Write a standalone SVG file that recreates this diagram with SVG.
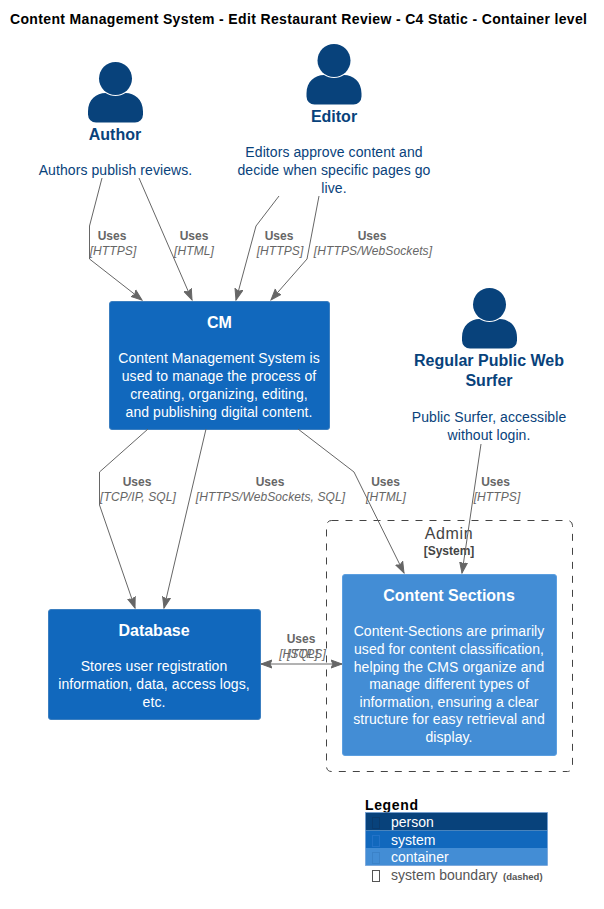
<svg xmlns="http://www.w3.org/2000/svg" width="604" height="909" viewBox="0 0 604 909">
<style>
text{font-family:"Liberation Sans",Arial,sans-serif}
.c{text-anchor:middle}
.title{font-size:14px;font-weight:bold;fill:#000}
.pn{font-size:16px;font-weight:bold;fill:#08427B}
.pd{font-size:14px;fill:#08427B;letter-spacing:.08px}
.nn{font-size:16px;font-weight:bold;fill:#fff}
.nd{font-size:14px;fill:#fff;letter-spacing:.08px}
.box{stroke:#3C7FC0;stroke-width:1}
.p{fill:#08427B}
.u{font-size:12px;font-weight:bold;fill:#666}
.h{font-size:12px;font-style:italic;fill:#666;letter-spacing:.1px}
.l{fill:none;stroke:#666;stroke-width:1}
.ah{fill:#666;stroke:#666}
.lg{font-size:14px}
</style>
<defs>
<marker id="a" viewBox="0 0 12 10" refX="11" refY="5" markerWidth="12" markerHeight="10" markerUnits="userSpaceOnUse" orient="auto-start-reverse"><path class="ah" d="M0,1 L11,5 L0,9 L2,5 Z"/></marker>
<g id="person"><circle cx="0" cy="-30" r="16.5" class="p"/><path class="p" d="M-27.500,3 C-27.500,-9 -19,-15.500 -10,-15.500 C-4,-11.500 4,-11.500 10,-15.500 C19,-15.500 27.500,-9 27.500,3 L27.500,6 A8,8 0 0 1 19.500,14 L-19.500,14 A8,8 0 0 1 -27.500,6 Z"/></g>
</defs>
<rect width="604" height="909" fill="#fff"/>
<text class="title" x="10" y="24" textLength="577">Content Management System - Edit Restaurant Review - C4 Static - Container level</text>

<g id="boundary-admin">
<rect x="326.500" y="520.500" width="246" height="251" rx="5" fill="none" stroke="#444" stroke-width="1" stroke-dasharray="7,7"/>
<text class="c" x="449" y="539" font-size="16" fill="#444" letter-spacing=".6">Admin</text>
<text class="c" x="449" y="555" font-size="12" font-weight="bold" fill="#444">[System]</text>
</g>

<g id="author">
<use href="#person" x="115.500" y="108.500"/>
<text class="pn c" x="115" y="140">Author</text>
<text class="pd c" x="115.500" y="175">Authors publish reviews.</text>
</g>
<g id="editor">
<use href="#person" x="334" y="90.500"/>
<text class="pn c" x="334" y="122">Editor</text>
<text class="pd c" x="334" y="157">Editors approve content and</text>
<text class="pd c" x="334" y="175">decide when specific pages go</text>
<text class="pd c" x="334" y="193">live.</text>
</g>
<g id="surfer">
<use href="#person" x="489.500" y="334.500"/>
<text class="pn c" x="489" y="366">Regular Public Web</text>
<text class="pn c" x="489" y="386">Surfer</text>
<text class="pd c" x="489" y="422">Public Surfer, accessible</text>
<text class="pd c" x="489" y="440">without login.</text>
</g>
<g id="cm">
<rect class="box" x="109.500" y="301.500" width="220" height="128" rx="2.500" fill="#1168BD"/>
<text class="nn c" x="219.500" y="328">CM</text>
<text class="nd c" x="219" y="363">Content Management System is</text>
<text class="nd c" x="219" y="381">used to manage the process of</text>
<text class="nd c" x="219" y="399">creating, organizing, editing,</text>
<text class="nd c" x="219" y="417">and publishing digital content.</text>
</g>
<g id="database">
<rect class="box" x="48.500" y="609.500" width="212" height="110" rx="2.500" fill="#1168BD"/>
<text class="nn c" x="154" y="636">Database</text>
<text class="nd c" x="154" y="671">Stores user registration</text>
<text class="nd c" x="154" y="689">information, data, access logs,</text>
<text class="nd c" x="154" y="707">etc.</text>
</g>
<g id="content-sections">
<rect x="342.500" y="574.500" width="214" height="181" rx="2.500" fill="#438DD5" stroke="#5C9FE0"/>
<text class="nn c" x="449" y="601">Content Sections</text>
<text class="nd c" x="449" y="636">Content-Sections are primarily</text>
<text class="nd c" x="449" y="654">used for content classification,</text>
<text class="nd c" x="449" y="672">helping the CMS organize and</text>
<text class="nd c" x="449" y="689">manage different types of</text>
<text class="nd c" x="449" y="707">information, ensuring a clear</text>
<text class="nd c" x="449" y="724">structure for easy retrieval and</text>
<text class="nd c" x="449" y="742">display.</text>
</g>

<g id="connectors">
<path class="l" marker-end="url(#a)" d="M102,178 L89.500,226 L89.500,259 L142,300"/>
<path class="l" marker-end="url(#a)" d="M139,178 L192,300"/>
<path class="l" marker-end="url(#a)" d="M279,196 L256,226 L236,300"/>
<path class="l" marker-end="url(#a)" d="M319,196 L307,259 L271,300"/>
<path class="l" marker-end="url(#a)" d="M148,429 L99.500,472 L99.500,505 L135,608"/>
<path class="l" marker-end="url(#a)" d="M206,429 L164,608"/>
<path class="l" marker-end="url(#a)" d="M298,429 L354,472 L404,573"/>
<path class="l" marker-end="url(#a)" d="M481,444 L462,573"/>
<path class="l" marker-start="url(#a)" marker-end="url(#a)" d="M261,664 L342,664"/>
</g>
<g id="connector-labels">
<text class="u c" x="112" y="240">Uses</text><text class="h c" x="113" y="255">[HTTPS]</text>
<text class="u c" x="194" y="240">Uses</text><text class="h c" x="194" y="255">[HTML]</text>
<text class="u c" x="279" y="240">Uses</text><text class="h c" x="280" y="255">[HTTPS]</text>
<text class="u c" x="372" y="240">Uses</text><text class="h c" x="373" y="255">[HTTPS/WebSockets]</text>
<text class="u c" x="137" y="486">Uses</text><text class="h c" x="138" y="501">[TCP/IP, SQL]</text>
<text class="u c" x="270" y="486">Uses</text><text class="h c" x="270.500" y="501">[HTTPS/WebSockets, SQL]</text>
<text class="u c" x="385.500" y="486">Uses</text><text class="h c" x="386" y="501">[HTML]</text>
<text class="u c" x="495.500" y="486">Uses</text><text class="h c" x="497" y="501">[HTTPS]</text>
<text class="u c" x="301" y="643">Uses</text><text class="h c" x="302.500" y="658">[HTTPS]</text><text class="h c" x="302.500" y="658">[SQL]</text>
</g>

<g id="legend">
<text x="365" y="810" font-size="14" font-weight="bold" textLength="53" fill="#000">Legend</text>
<rect x="365.500" y="812.500" width="182" height="18" fill="#08427B"/>
<rect x="365.500" y="830.500" width="182" height="17.500" fill="#1168BD"/>
<rect x="365.500" y="848" width="182" height="17.500" fill="#438DD5"/>
<rect x="365.500" y="812.500" width="182" height="53" fill="none" stroke="#6F9FD8" stroke-width="0.700"/>
<g fill="none" stroke-width="1"><rect x="372.500" y="817.500" width="7" height="11" stroke="#0A3A6C"/><rect x="372.500" y="835.500" width="7" height="11" stroke="#2272C8"/><rect x="372.500" y="852.500" width="7" height="11" stroke="#3B82C8"/><rect x="372.500" y="870.500" width="7" height="11" stroke="#555"/></g>
<text class="lg" x="391" y="827" fill="#fff">person</text>
<text class="lg" x="391" y="845" fill="#fff">system</text>
<text class="lg" x="391" y="862" fill="#fff">container</text>
<text class="lg" x="391" y="880" fill="#555">system boundary</text>
<text x="503" y="880" font-size="9.500" font-weight="bold" fill="#555">(dashed)</text>
</g>
</svg>
